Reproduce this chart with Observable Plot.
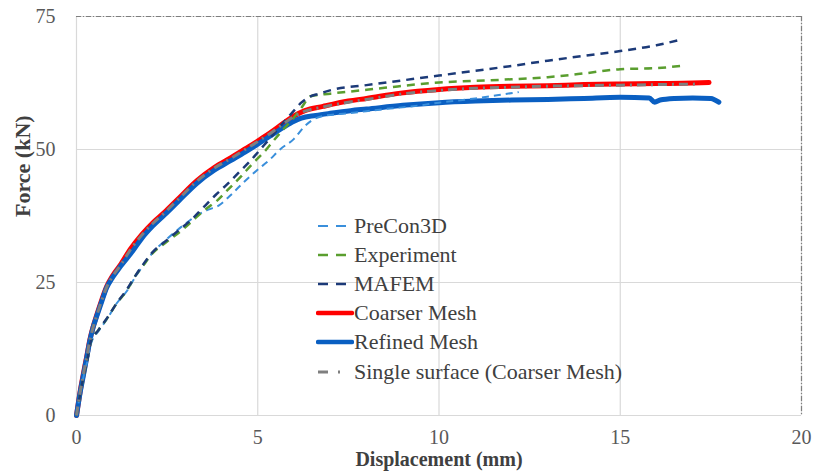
<!DOCTYPE html>
<html>
<head>
<meta charset="utf-8">
<script src="https://cdn.jsdelivr.net/npm/d3@7"></script>
<script src="https://cdn.jsdelivr.net/npm/@observablehq/plot@0.6"></script>
<style>
  body { margin: 0; background: #fff; }
  #wrap { position: relative; width: 814px; height: 474px; font-family: "Liberation Serif", "Times New Roman", serif; }
  #legend { position: absolute; left: 316px; top: 211px; }
  .row { display: flex; align-items: center; height: 29.2px; font-size: 22px; color: #404040; white-space: nowrap; }
  .row svg { width: 38px; height: 14px; flex: none; }
</style>
</head>
<body>
<div id="wrap"><div id="legend"></div></div>
<script>
// ---- data (displacement mm, force kN) ----
const xTicks = [0, 5, 10, 15, 20];
const yTicks = [0, 25, 50, 75];

const preCon3D = [[0,0],[0.1,4],[0.2,7.5],[0.3,10.3],[0.4,13.5],[0.6,15.8],[0.85,18.2],[1.1,21],[1.4,23.5],[1.6,25.8],[1.85,28.3],[2.1,30.6],[2.5,33.2],[2.9,35.5],[3.3,37.5],[3.6,38.6],[3.93,39.5],[4.25,41.4],[4.62,43.9],[4.98,46.1],[5.3,47.9],[5.63,50.1],[6.0,52],[6.27,54.2],[6.5,55.5],[6.82,56.3],[7.5,56.8],[8.5,57.6],[9.5,58.3],[10,58.8],[11,59.6],[11.6,60.2],[12.2,60.8]];

const experiment = [[0,0],[0.1,4],[0.2,7.5],[0.3,10.5],[0.4,14],[0.6,16],[0.85,18.3],[1.1,21],[1.4,23.6],[1.6,26],[1.85,28.3],[2.1,30.5],[2.5,32.7],[2.9,34.8],[3.2,36.6],[3.51,38.5],[3.88,40.4],[4.2,42.6],[4.52,44.8],[4.85,47.3],[5.17,49.5],[5.44,51.7],[5.72,53.9],[5.95,55.6],[6.2,57.8],[6.46,60.0],[7,60.5],[7.56,60.9],[8.5,61.6],[10,62.6],[11,62.9],[12,63.2],[13,63.6],[14,64.3],[15,65.1],[16,65.3],[16.8,65.8]];

const mafem = [[0,0],[0.1,4],[0.2,7.5],[0.3,10.5],[0.4,14],[0.6,16],[0.85,18.4],[1.1,21],[1.4,23.8],[1.6,26],[1.85,28.5],[2.1,30.7],[2.5,33],[2.87,35.1],[3.2,37],[3.47,38.9],[3.83,41.4],[4.16,43.5],[4.48,45.7],[4.8,47.9],[5.12,50.4],[5.4,52.6],[5.7,55],[6.0,57.3],[6.2,58.8],[6.4,59.8],[6.7,60.5],[7.1,61.3],[8,62.1],[9,63],[10,63.9],[11,64.8],[12,65.7],[13,66.7],[14,67.6],[15,68.5],[16,69.6],[16.7,70.7]];

const coarserMesh = [[0,0],[0.1,4.5],[0.18,7.5],[0.28,11],[0.37,14.3],[0.46,16.7],[0.55,18.7],[0.7,21.8],[0.83,24.2],[1.0,26.3],[1.2,28.2],[1.49,31.3],[1.8,34],[2.1,36.2],[2.41,38.1],[2.8,40.7],[3.33,44.2],[3.8,46.6],[4.25,48.4],[4.65,50.1],[5.0,51.6],[5.4,53.4],[5.72,55],[6.0,56.3],[6.3,57.3],[6.8,58.1],[7.5,59.1],[8,59.6],[8.94,60.6],[10,61.3],[11,61.7],[12,61.9],[13,62.0],[14,62.2],[15,62.3],[16,62.4],[17,62.5],[17.45,62.6]];

const refinedMesh = [[0,0],[0.1,4.3],[0.18,7.2],[0.28,10.8],[0.37,14.1],[0.46,16.6],[0.55,18.5],[0.7,21.5],[0.83,24.0],[1.0,26.0],[1.2,27.9],[1.56,31.0],[1.8,33.3],[2.1,35.6],[2.41,37.6],[2.8,40.2],[3.33,43.7],[3.8,46.1],[4.25,47.9],[4.65,49.5],[5.0,51.0],[5.4,52.8],[5.72,54.2],[6.0,55.3],[6.2,55.9],[6.6,56.4],[7.0,56.8],[7.56,57.3],[8,57.6],[9,58.3],[10,58.8],[11,59.1],[12,59.3],[13,59.4],[14,59.6],[15,59.8],[15.8,59.7],[15.95,58.9],[16.1,59.3],[16.5,59.6],[17,59.7],[17.5,59.6],[17.72,58.9]];

const singleSurface = [[0,0],[0.1,4.4],[0.18,7.4],[0.28,10.9],[0.37,14.2],[0.46,16.6],[0.55,18.6],[0.7,21.7],[0.83,24.1],[1.0,26.2],[1.2,28.1],[1.49,31.2],[1.8,33.9],[2.1,36.1],[2.41,38.0],[2.8,40.6],[3.33,44.1],[3.8,46.5],[4.25,48.3],[4.65,50.0],[5.0,51.5],[5.4,53.3],[5.72,54.9],[6.0,56.2],[6.3,57.2],[6.8,58.0],[7.5,58.9],[8,59.4],[8.94,60.4],[10,61.1],[11,61.5],[12,61.7],[13,61.9],[14,62.0],[15,62.1],[16,62.2],[17.2,62.3]];

const seriesNames = ["PreCon3D", "Experiment", "MAFEM", "Coarser Mesh", "Refined Mesh", "Single surface (Coarser Mesh)"];

// ---- styles ----
const styles = {
  "PreCon3D": {data: preCon3D, stroke: "#3a8fdb", width: 2, dash: "7,5"},
  "Experiment": {data: experiment, stroke: "#5a9e2f", width: 2.5, dash: "8,6"},
  "MAFEM": {data: mafem, stroke: "#1c3a78", width: 2.5, dash: "8,6"},
  "Coarser Mesh": {data: coarserMesh, stroke: "#ff0000", width: 5, dash: null},
  "Refined Mesh": {data: refinedMesh, stroke: "#0a5fc2", width: 5, dash: null},
  "Single surface (Coarser Mesh)": {data: singleSurface, stroke: "#7f7f7f", width: 3, dash: "9,5,2,5"}
};
const drawOrder = ["Coarser Mesh", "Refined Mesh", "PreCon3D", "Experiment", "MAFEM", "Single surface (Coarser Mesh)"];

const lineMarks = drawOrder.map(name => {
  const s = styles[name];
  return Plot.line(s.data, {
    x: d => d[0], y: d => d[1],
    stroke: s.stroke, strokeWidth: s.width,
    strokeDasharray: s.dash || undefined,
    strokeLinejoin: "round", strokeLinecap: s.dash ? "butt" : "round",
    curve: "monotone-x"
  });
});

const chart = Plot.plot({
  width: 814,
  height: 474,
  marginLeft: 76,
  marginRight: 13,
  marginTop: 16,
  marginBottom: 59,
  style: {fontFamily: "'Liberation Serif', 'Times New Roman', serif", fontSize: "20px", color: "#595959", background: "#fff"},
  x: {domain: [0, 20], ticks: xTicks, tickSize: 0, tickPadding: 14, label: null},
  y: {domain: [0, 75], ticks: yTicks, tickSize: 0, tickPadding: 21, label: null},
  marks: [
    Plot.ruleX(xTicks, {stroke: "#d9d9d9", strokeWidth: 1.2}),
    Plot.ruleY(yTicks, {stroke: "#d9d9d9", strokeWidth: 1.2}),
    Plot.ruleY([yTicks[yTicks.length - 1]], {stroke: "#7f7f7f", strokeWidth: 1.2, strokeDasharray: "5,2,1,2"}),
    Plot.ruleX([xTicks[xTicks.length - 1]], {stroke: "#7f7f7f", strokeWidth: 1.2, strokeDasharray: "5,2,1,2"}),
    ...lineMarks,
    Plot.text(["Displacement (mm)"], {frameAnchor: "bottom", dy: 50, fontWeight: "bold", fontSize: 20, fill: "#404040"}),
    Plot.text(["Force (kN)"], {frameAnchor: "left", dx: -54, dy: 1, rotate: -90, fontWeight: "bold", fontSize: 22, fill: "#404040"})
  ]
});

const wrap = document.getElementById("wrap");
wrap.insertBefore(chart, wrap.firstChild);

// ---- legend (inside plot area) ----
const legend = document.getElementById("legend");
seriesNames.forEach(name => {
  const s = styles[name];
  const row = document.createElement("div");
  row.className = "row";
  let sample;
  if (s.dash === null) {
    sample = `<line x1="2" y1="7" x2="36" y2="7" stroke="${s.stroke}" stroke-width="4.5" stroke-linecap="round"/>`;
  } else if (name.startsWith("Single")) {
    sample = `<line x1="2" y1="7" x2="12" y2="7" stroke="${s.stroke}" stroke-width="3"/><line x1="22" y1="7" x2="24" y2="7" stroke="${s.stroke}" stroke-width="3"/>`;
  } else {
    sample = `<line x1="2" y1="7" x2="12" y2="7" stroke="${s.stroke}" stroke-width="${s.width}"/><line x1="20" y1="7" x2="30" y2="7" stroke="${s.stroke}" stroke-width="${s.width}"/>`;
  }
  row.innerHTML = `<svg viewBox="0 0 38 14">${sample}</svg><span>${name}</span>`;
  legend.appendChild(row);
});
</script>
</body>
</html>
